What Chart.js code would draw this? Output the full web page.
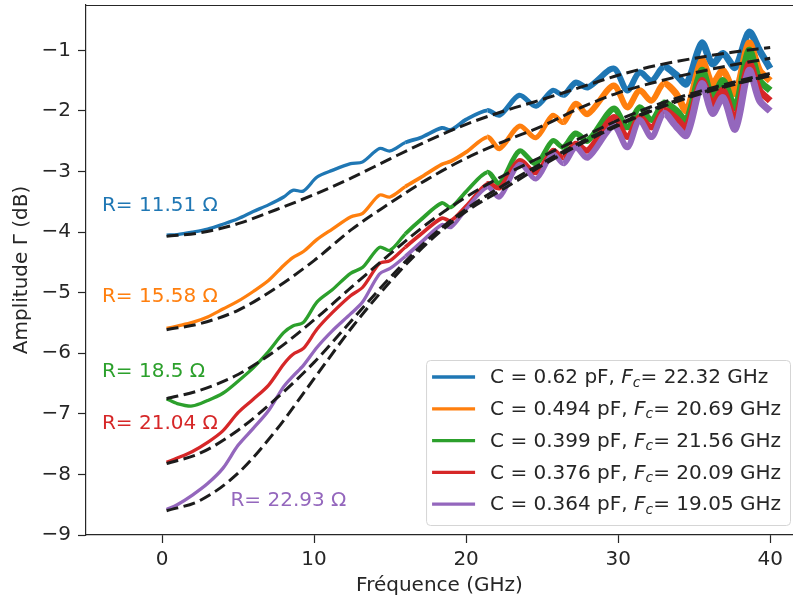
<!DOCTYPE html>
<html lang="fr">
<head>
    <meta charset="UTF-8">
    <title>Amplitude Γ vs fréquence</title>
    <script src="https://cdn.jsdelivr.net/npm/chart.js"></script>
    <style>
        body { margin: 0; background: #fff; }
        canvas { display: block; }
    </style>
</head>
<body>
    <canvas id="chart" width="793" height="598"></canvas>

    <script>
        const freq = [0.3, 1, 2, 3, 4, 5, 6, 7, 8, 8.6, 9.3, 10.2, 11.2, 12.4, 13.2, 14.3, 15, 16, 17, 18.4, 19, 20,
            21.4, 22.2, 23.5, 24.6, 25.7, 26.4, 27.2, 28, 29.7, 30.6, 31.4, 32.2, 33, 33.8, 34.5, 35.5, 36.2, 36.9, 37.7, 38.6, 39.3, 40];

        const gammaC062 = [-4.05, -4.04, -4.00, -3.95, -3.87, -3.78, -3.66, -3.55, -3.42, -3.31, -3.32, -3.09, -2.98, -2.87, -2.84, -2.62, -2.66, -2.52, -2.44, -2.28, -2.31, -2.14,
            -1.99, -2.07, -1.74, -1.92, -1.66, -1.74, -1.53, -1.61, -1.30, -1.66, -1.36, -1.50, -1.27, -1.40, -1.55, -0.88, -1.22, -1.05, -1.28, -0.70, -1.00, -1.30];
        const gammaC0494 = [-5.59, -5.55, -5.49, -5.40, -5.27, -5.14, -4.98, -4.80, -4.55, -4.42, -4.32, -4.12, -3.95, -3.75, -3.69, -3.39, -3.42, -3.25, -3.10, -2.88, -2.83, -2.68,
            -2.43, -2.62, -2.25, -2.44, -2.07, -2.19, -1.88, -2.05, -1.58, -1.94, -1.66, -1.83, -1.55, -1.71, -1.99, -1.17, -1.55, -1.33, -1.71, -0.88, -1.33, -1.50];
        const gammaC0399 = [-6.75, -6.83, -6.87, -6.78, -6.66, -6.46, -6.24, -5.97, -5.66, -5.55, -5.49, -5.15, -4.95, -4.68, -4.58, -4.25, -4.30, -4.03, -3.80, -3.52, -3.59, -3.33,
            -3.01, -3.20, -2.66, -2.87, -2.49, -2.60, -2.37, -2.49, -1.96, -2.27, -1.94, -2.15, -1.87, -1.99, -2.15, -1.33, -1.78, -1.50, -1.94, -1.00, -1.50, -1.66];
        const gammaC0376 = [-7.80, -7.73, -7.62, -7.47, -7.28, -6.98, -6.76, -6.53, -6.18, -6.02, -5.92, -5.60, -5.33, -5.05, -4.91, -4.52, -4.47, -4.25, -4.04, -3.77, -3.81, -3.57,
            -3.20, -3.27, -2.82, -3.02, -2.65, -2.77, -2.54, -2.65, -2.10, -2.43, -2.10, -2.27, -1.99, -2.12, -2.27, -1.50, -1.88, -1.66, -2.15, -1.22, -1.66, -1.83];
        const gammaC0364 = [-8.58, -8.50, -8.34, -8.15, -7.90, -7.52, -7.24, -6.95, -6.55, -6.38, -6.20, -5.90, -5.63, -5.35, -5.15, -4.69, -4.60, -4.40, -4.18, -3.88, -3.92, -3.62,
            -3.26, -3.42, -2.88, -3.12, -2.71, -2.87, -2.60, -2.77, -2.25, -2.60, -2.15, -2.43, -2.04, -2.25, -2.40, -1.55, -2.04, -1.78, -2.30, -1.33, -1.83, -2.00];

        // RC model fits (dashed)
        const fitFreq = [0.3, 2.5, 5, 7.5, 10, 12.5, 15, 17.5, 20, 22.5, 25, 27.5, 30, 32.5, 35, 37.5, 40];
        const fitC062  = [-4.07, -4.01, -3.86, -3.63, -3.38, -3.10, -2.79, -2.49, -2.22, -2.00, -1.81, -1.61, -1.41, -1.25, -1.13, -1.03, -0.95];
        const fitC0494 = [-5.61, -5.51, -5.29, -4.92, -4.47, -3.95, -3.52, -3.12, -2.78, -2.50, -2.25, -1.95, -1.70, -1.52, -1.37, -1.24, -1.13];
        const fitC0399 = [-6.75, -6.61, -6.35, -5.95, -5.45, -4.90, -4.36, -3.85, -3.42, -3.06, -2.75, -2.45, -2.15, -1.90, -1.70, -1.53, -1.38];
        const fitC0376 = [-7.82, -7.65, -7.27, -6.75, -6.15, -5.45, -4.75, -4.12, -3.62, -3.22, -2.86, -2.52, -2.22, -1.95, -1.73, -1.56, -1.41];
        const fitC0364 = [-8.60, -8.43, -7.98, -7.27, -6.42, -5.57, -4.82, -4.17, -3.66, -3.28, -2.90, -2.55, -2.24, -1.97, -1.75, -1.57, -1.42];

        const capLabels = ['0.62', '0.494', '0.399', '0.376', '0.364'];
        const fcLabels = ['22.32', '20.69', '21.56', '20.09', '19.05'];
        const rLabels = ['11.51', '15.58', '18.5', '21.04', '22.93'];

        const xTicks = [0, 10, 20, 30, 40];
        const yTicks = [-9, -8, -7, -6, -5, -4, -3, -2, -1];

        const measured = [gammaC062, gammaC0494, gammaC0399, gammaC0376, gammaC0364];
        const fits = [fitC062, fitC0494, fitC0399, fitC0376, fitC0364];
        const colors = ['#1f77b4', '#ff7f0e', '#2ca02c', '#d62728', '#9467bd'];

        // where the R= annotations sit (data coords, left/middle of text)
        const rTextX = [-3.95, -3.95, -3.95, -3.95, 4.5];
        const rTextY = [-3.57, -5.06, -6.31, -7.17, -8.43];

        const FONT = '"DejaVu Sans", "Liberation Sans", sans-serif';
        const FS = 20;
        const INK = '#262626';
        const fmt = v => (v < 0 ? '\u2212' + Math.abs(v) : String(v));

        // the noisy band thickens at high frequency
        const bandWidth = f => (f < 16 ? 3.3 : f < 21 ? 3.8 : f < 26 ? 5 : f < 33 ? 6 : 7);

        const datasets = [];
        measured.forEach((vals, i) => {
            datasets.push({
                label: `C = ${capLabels[i]} pF`,
                data: freq.map((f, k) => ({ x: f, y: vals[k] })),
                borderColor: colors[i],
                borderWidth: 3.3,
                tension: 0.3,
                pointRadius: 0,
                borderJoinStyle: 'round',
                order: 5 - i,
                segment: { borderWidth: c => bandWidth(c.p0.parsed.x) }
            });
        });
        fits.forEach((vals, i) => {
            datasets.push({
                label: 'fit',
                data: fitFreq.map((f, k) => ({ x: f, y: vals[k] })),
                borderColor: '#1c1c1c',
                borderWidth: 3,
                borderDash: [12, 5.5],
                cubicInterpolationMode: 'monotone',
                pointRadius: 0,
                order: 0
            });
        });

        const frameAndText = {
            id: 'frameAndText',
            afterDatasetsDraw(chart) {
                const { ctx, chartArea, scales } = chart;
                ctx.save();
                // top spine
                ctx.strokeStyle = INK;
                ctx.lineWidth = 1.2;
                ctx.beginPath();
                ctx.moveTo(chartArea.left, chartArea.top + 0.5);
                ctx.lineTo(chartArea.right, chartArea.top + 0.5);
                ctx.stroke();

                // R= labels
                ctx.font = FS + 'px ' + FONT;
                ctx.textBaseline = 'middle';
                ctx.textAlign = 'left';
                rLabels.forEach((r, i) => {
                    ctx.fillStyle = colors[i];
                    ctx.fillText(`R= ${r} \u03A9`, scales.x.getPixelForValue(rTextX[i]), scales.y.getPixelForValue(rTextY[i]));
                });
                ctx.restore();
            },
            afterDraw(chart) {
                const { ctx, chartArea } = chart;
                ctx.save();
                const big = FS + 'px ' + FONT, bigIt = 'italic ' + FS + 'px ' + FONT, sub = 'italic 14px ' + FONT;
                const parts = i => [
                    { t: `C = ${capLabels[i]} pF, `, f: big, dy: 0 },
                    { t: 'F', f: bigIt, dy: 0 },
                    { t: 'c', f: sub, dy: 5 },
                    { t: `= ${fcLabels[i]} GHz`, f: big, dy: 0 }
                ];
                const widthOf = i => parts(i).reduce((w, p) => { ctx.font = p.f; return w + ctx.measureText(p.t).width; }, 0);
                let maxW = 0;
                capLabels.forEach((c, i) => { maxW = Math.max(maxW, widthOf(i)); });

                const rowH = 31.8, lineLen = 43;
                const boxW = 6 + lineLen + 15 + maxW + 9;
                const boxH = 165;
                const right = chartArea.right - 3, bottom = chartArea.bottom - 10;
                const left = right - boxW, top = bottom - boxH;

                ctx.beginPath();
                ctx.roundRect(left + 0.5, top + 0.5, boxW, boxH, 4);
                ctx.fillStyle = 'rgba(255,255,255,0.85)';
                ctx.fill();
                ctx.strokeStyle = '#d5d5d5';
                ctx.lineWidth = 1;
                ctx.stroke();

                capLabels.forEach((c, i) => {
                    const y = top + 17 + i * rowH;
                    ctx.strokeStyle = colors[i];
                    ctx.lineWidth = 3.3;
                    ctx.beginPath();
                    ctx.moveTo(left + 6, y);
                    ctx.lineTo(left + 6 + lineLen, y);
                    ctx.stroke();

                    let x = left + 6 + lineLen + 15;
                    ctx.fillStyle = INK;
                    ctx.textBaseline = 'middle';
                    parts(i).forEach(p => {
                        ctx.font = p.f;
                        ctx.fillText(p.t, x, y + 1 + p.dy);
                        x += ctx.measureText(p.t).width;
                    });
                });
                ctx.restore();
            }
        };

        const axisCommon = {
            type: 'linear',
            grid: { drawOnChartArea: false, drawTicks: true, tickLength: 8, tickColor: INK, tickWidth: 1.2 },
            border: { display: true, color: INK, width: 1.2 },
            ticks: { color: INK, font: { family: FONT, size: FS }, callback: v => fmt(v) }
        };

        new Chart(document.getElementById('chart'), {
            type: 'line',
            data: { datasets },
            options: {
                responsive: false,
                animation: false,
                devicePixelRatio: 1,
                layout: { padding: { top: 5, right: 0, left: 0, bottom: 0 } },
                plugins: { legend: { display: false }, tooltip: { enabled: false } },
                scales: {
                    x: {
                        ...axisCommon,
                        min: -5,
                        max: 41.5,
                        afterBuildTicks: s => { s.ticks = xTicks.map(v => ({ value: v })); },
                        afterFit: s => { s.height = 63; s.paddingLeft = 0; s.paddingRight = 0; },
                        ticks: { ...axisCommon.ticks, padding: 5, maxRotation: 0 },
                        title: { display: true, text: 'Fréquence (GHz)', color: INK, font: { family: FONT, size: FS }, padding: { top: 0, bottom: 0 } }
                    },
                    y: {
                        ...axisCommon,
                        min: -9,
                        max: -0.25,
                        afterBuildTicks: s => { s.ticks = yTicks.map(v => ({ value: v })); },
                        afterFit: s => { s.width = 86; s.paddingTop = 0; s.paddingBottom = 0; },
                        ticks: { ...axisCommon.ticks, padding: 7 },
                        title: { display: true, text: 'Amplitude \u0393 (dB)', color: INK, font: { family: FONT, size: FS }, padding: { top: 10, bottom: 0 } }
                    }
                }
            },
            plugins: [frameAndText]
        });
    </script>
</body>
</html>
